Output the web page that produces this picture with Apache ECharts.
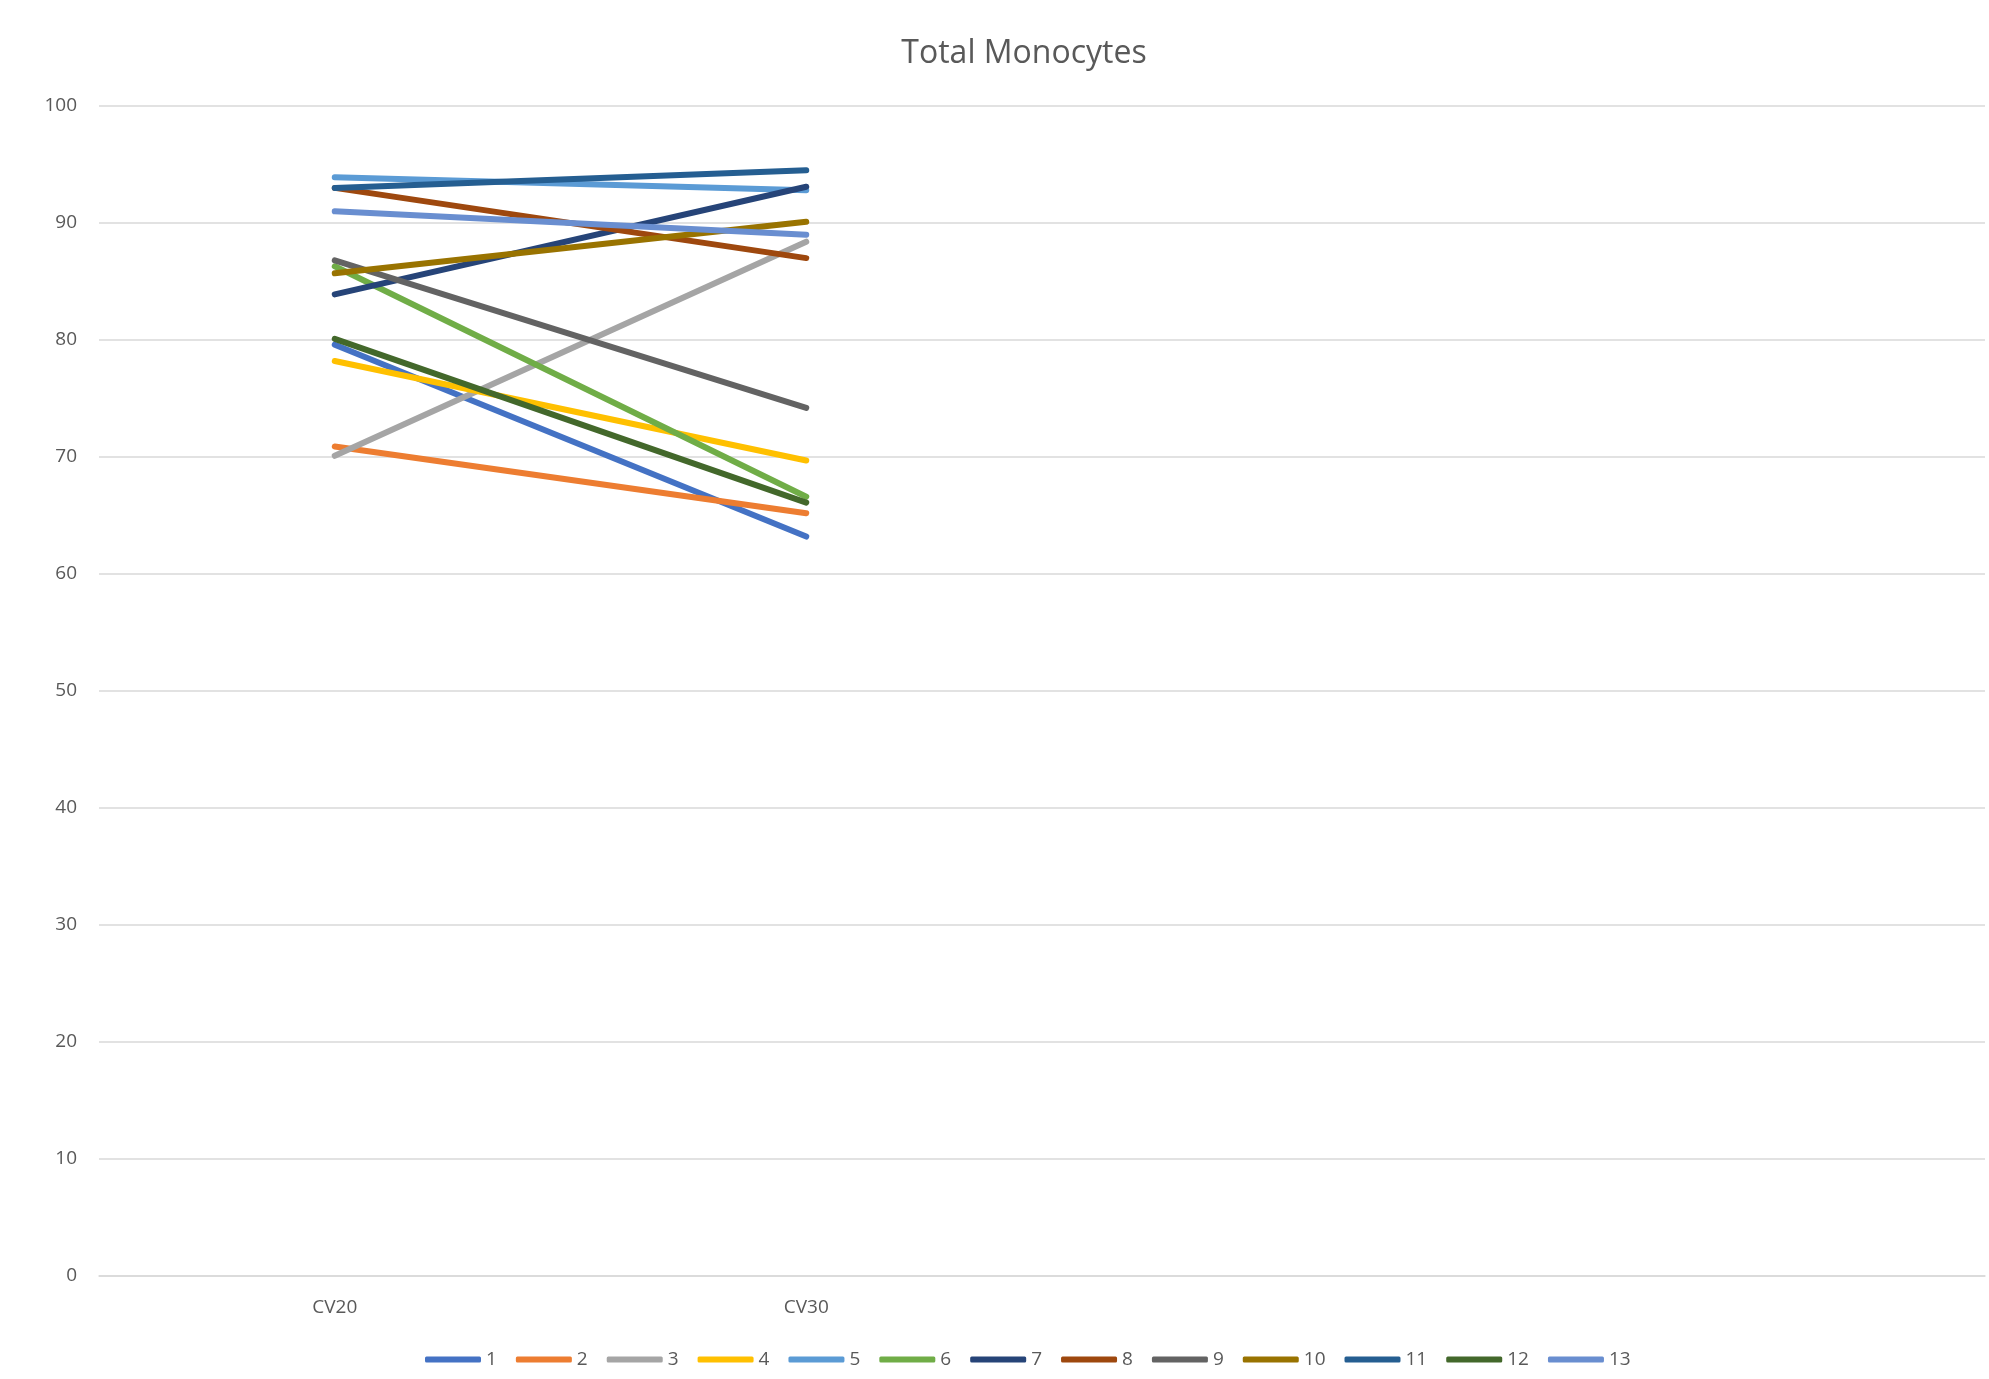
<!DOCTYPE html>
<html>
<head>
    <meta charset="utf-8" />
    <title>Total Monocytes</title>
    <style type="text/css">
        html, body { margin: 0; padding: 0; background: #fff; }
        #container { width: 1989px; height: 1379px; }
    </style>
    <script src="https://cdn.jsdelivr.net/npm/echarts@6.0.0/dist/echarts.min.js"></script>
</head>
<body>
    <div id="container"></div>
    <script type="text/javascript">
        // categories (the last two are empty slots, as in the original sheet)
        var categories = ['CV20', 'CV30', '', ''];
        var seriesNames = ['1', '2', '3', '4', '5', '6', '7', '8', '9', '10', '11', '12', '13'];
        // values read at CV20 and CV30
        var cv20 = [79.6, 70.9, 70.1, 78.2, 93.9, 86.3, 83.9, 93.0, 86.8, 85.7, 93.0, 80.1, 91.0];
        var cv30 = [63.2, 65.2, 88.4, 69.7, 92.8, 66.6, 93.1, 87.0, 74.2, 90.1, 94.5, 66.1, 89.0];
        var yTicks = [0, 10, 20, 30, 40, 50, 60, 70, 80, 90, 100];

        var colors = ['#4472C4', '#ED7D31', '#A5A5A5', '#FFC000', '#5B9BD5', '#70AD47',
            '#264478', '#9E480E', '#636363', '#997300', '#255E91', '#43682B', '#698ED0'];

        var chart = echarts.init(document.getElementById('container'));

        var series = [];
        for (var i = 0; i < seriesNames.length; i++) {
            series.push({
                name: seriesNames[i],
                type: 'line',
                data: [cv20[i], cv30[i]],
                symbol: 'none',
                lineStyle: { width: 6, cap: 'round', color: colors[i] },
                itemStyle: { color: colors[i] }
            });
        }

        var option = {
            animation: false,
            color: colors,
            title: {
                text: 'Total Monocytes',
                left: 1019,
                top: 33,
                textAlign: 'center',
                textStyle: {
                    fontFamily: 'Open Sans',
                    fontSize: 32,
                    fontWeight: 'normal',
                    color: '#595959'
                }
            },
            legend: {
                bottom: 5,
                left: 420,
                itemWidth: 56,
                itemHeight: 6,
                itemGap: 19,
                icon: 'roundRect',
                textStyle: { fontFamily: 'Open Sans', fontSize: 19, color: '#595959' },
                data: seriesNames
            },
            grid: {
                left: 99,
                right: 4,
                top: 106,
                bottom: 103,
                containLabel: false
            },
            xAxis: {
                type: 'category',
                data: categories,
                boundaryGap: true,
                axisLine: { show: true, lineStyle: { color: '#D9D9D9', width: 1.5 } },
                axisTick: { show: false },
                axisLabel: { margin: 22, fontFamily: 'Open Sans', fontSize: 19, color: '#595959' }
            },
            yAxis: {
                type: 'value',
                min: yTicks[0],
                max: yTicks[yTicks.length - 1],
                interval: 10,
                axisLine: { show: false },
                axisTick: { show: false },
                splitLine: { lineStyle: { color: '#D9D9D9', width: 1.5 } },
                axisLabel: { margin: 22, fontFamily: 'Open Sans', fontSize: 19, color: '#595959' }
            },
            series: series
        };
        chart.setOption(option);
    </script>
</body>
</html>
